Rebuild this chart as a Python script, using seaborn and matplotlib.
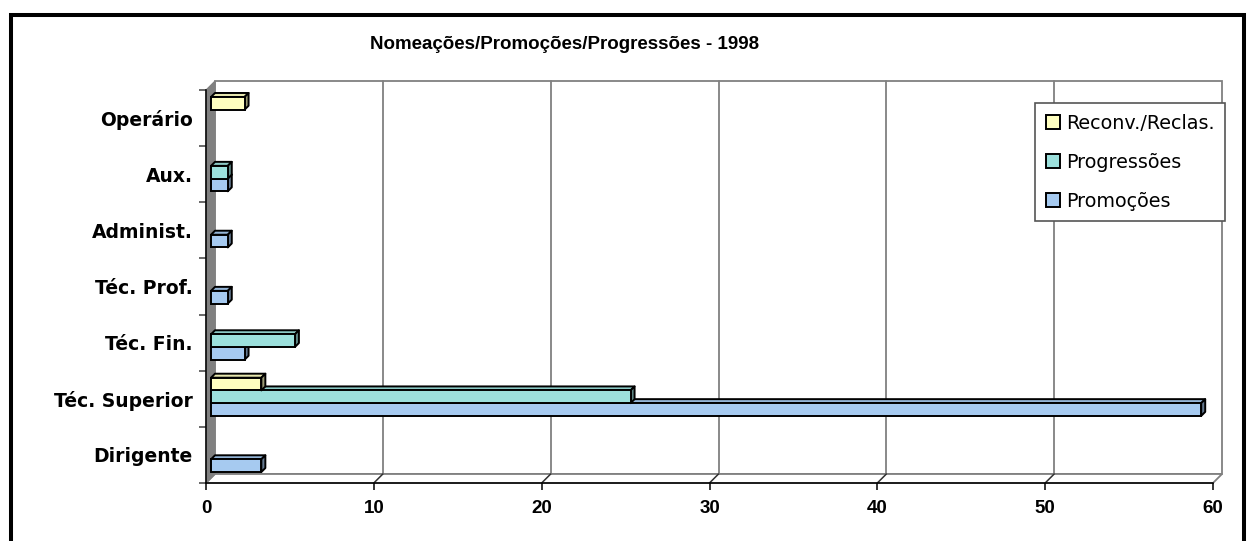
import matplotlib
matplotlib.use("Agg")
import matplotlib.pyplot as plt
import matplotlib.colors as mcolors
from matplotlib.patches import Polygon, Rectangle, Patch
from matplotlib.lines import Line2D
from matplotlib.transforms import IdentityTransform, ScaledTranslation
import numpy as np
import pandas as pd
import seaborn as sns

# Staff categories (top to bottom) and the three movement types
categorias = ["Operário", "Aux.", "Administ.", "Téc. Prof.", "Téc. Fin.", "Téc. Superior", "Dirigente"]
series = ["Reconv./Reclas.", "Progressões", "Promoções"]
reconv_reclas = [2, 0, 0, 0, 0, 3, 0]
progressoes = [0, 1, 0, 0, 5, 25, 0]
promocoes = [0, 1, 1, 1, 2, 59, 3]
cores = ["#FFFFC0", "#9CE0DC", "#A6CAF0"]
x_ticks = [0, 10, 20, 30, 40, 50, 60]
titulo = "Nomeações/Promoções/Progressões - 1998"

df = pd.DataFrame({
    "categoria": categorias * 3,
    "serie": [s for s in series for _ in categorias],
    "valor": reconv_reclas + progressoes + promocoes,
})

sns.set_style("white")
plt.rcParams["font.family"] = ["Liberation Sans", "DejaVu Sans"]
plt.rcParams["text.color"] = "black"
plt.rcParams["xtick.labelcolor"] = "black"
plt.rcParams["ytick.labelcolor"] = "black"

W, H = 1251, 541
fig = plt.figure(figsize=(W / 100, H / 100), dpi=100)
fig.patch.set_facecolor("white")

# front plane of the 3-D box, in pixels from the top-left corner
FX0, FX1, FY0, FY1 = 206, 1213, 90, 483
DEPTH = 9            # depth of walls and floor
BAR_SHIFT = (5, 2)   # bar front faces sit a little behind the front plane
BAR_DEPTH = 4
GREY = "#808080"

ax = fig.add_axes([FX0 / W, 1 - FY1 / H, (FX1 - FX0) / W, (FY1 - FY0) / H])
ax.set_facecolor("none")

sns.barplot(data=df, y="categoria", x="valor", hue="serie", order=categorias,
            hue_order=series, palette=cores, orient="h", width=0.68,
            saturation=1, edgecolor="black", linewidth=1.4, legend=False, ax=ax)
bars = list(ax.patches)

ax.set_xlim(0, 60)
ax.set_ylim(len(categorias) - 0.5, -0.5)
ax.set_xlabel("")
ax.set_ylabel("")

T = ax.transData
ID = IdentityTransform()
d = DEPTH


def disp(x, y):
    return T.transform((x, y))


x0d, ybot = disp(0, len(categorias) - 0.5)
x1d, ytop = disp(60, -0.5)

# left wall, back wall and floor
ax.add_patch(Polygon([(x0d, ybot), (x0d, ytop), (x0d + d, ytop + d), (x0d + d, ybot + d)],
                     closed=True, facecolor=GREY, edgecolor=GREY, linewidth=0.8,
                     transform=ID, clip_on=False, zorder=0.5))
ax.add_patch(Rectangle((x0d + d, ybot + d), x1d - x0d, ytop - ybot, facecolor="white",
                       edgecolor=GREY, linewidth=1.3, transform=ID, clip_on=False, zorder=0.4))
ax.add_patch(Polygon([(x0d, ybot), (x0d + d, ybot + d), (x1d + d, ybot + d), (x1d, ybot)],
                     closed=True, facecolor="white", edgecolor=GREY, linewidth=1.3,
                     transform=ID, clip_on=False, zorder=0.45))

# gridlines on the back wall and their traces on the floor
for v in x_ticks[1:-1]:
    xf = disp(v, 0)[0]
    ax.add_line(Line2D([xf + d, xf + d], [ybot + d, ytop + d], color=GREY, linewidth=1.3,
                       transform=ID, clip_on=False, zorder=1))
    ax.add_line(Line2D([xf, xf + d], [ybot, ybot + d], color="#303030", linewidth=1.1,
                       transform=ID, clip_on=False, zorder=1))

# 3-D bars: the seaborn rectangles become the front faces
shift = ScaledTranslation(BAR_SHIFT[0] / 100, BAR_SHIFT[1] / 100, fig.dpi_scale_trans)
bd = BAR_DEPTH
for bar in bars:
    w = bar.get_width()
    if w <= 0:
        bar.set_visible(False)
        continue
    yc = bar.get_y() + bar.get_height() / 2
    z = 10 - yc
    (ax_, ay_), (bx_, by_) = disp(bar.get_x(), bar.get_y()), disp(bar.get_x() + w, bar.get_y() + bar.get_height())
    L, R = min(ax_, bx_) + BAR_SHIFT[0], max(ax_, bx_) + BAR_SHIFT[0]
    B, Tp = min(ay_, by_) + BAR_SHIFT[1], max(ay_, by_) + BAR_SHIFT[1]
    base = np.array(mcolors.to_rgb(bar.get_facecolor()))
    top_c = base * 0.9
    side_c = base * 0.6
    ax.add_patch(Polygon([(L, Tp), (L + bd, Tp + bd), (R + bd, Tp + bd), (R, Tp)], closed=True,
                         facecolor=top_c, edgecolor="black", linewidth=1.4, joinstyle="round",
                         transform=ID, clip_on=False, zorder=z))
    ax.add_patch(Polygon([(R, B), (R, Tp), (R + bd, Tp + bd), (R + bd, B + bd)], closed=True,
                         facecolor=side_c, edgecolor="black", linewidth=1.4, joinstyle="round",
                         transform=ID, clip_on=False, zorder=z))
    bar.set_transform(T + shift)
    bar.set_clip_on(False)
    bar.set_zorder(z + 0.01)

# axes lines and ticks
for side in ("top", "right"):
    ax.spines[side].set_visible(False)
for side in ("left", "bottom"):
    ax.spines[side].set_color("black")
    ax.spines[side].set_linewidth(1.1)
    ax.spines[side].set_zorder(2)

ax.set_xticks(x_ticks)
ax.set_xticklabels([str(t) for t in x_ticks], fontsize=13.5, fontweight="bold",
                   family=["Liberation Sans", "DejaVu Sans"], color="black")
ax.tick_params(axis="x", which="major", length=5, width=1.1, color="black", pad=7, bottom=True)

ax.set_yticks(range(len(categorias)))
ax.set_yticklabels(categorias, fontsize=13.5, fontweight="bold", family=["DejaVu Sans"],
                   color="black")
ax.set_yticks(np.arange(-0.5, len(categorias), 1), minor=True)
ax.tick_params(axis="y", which="major", length=0, pad=9.5, left=True)
ax.tick_params(axis="y", which="minor", length=5, width=1.1, color="#404040", left=True)
ax.grid(False)

# legend
handles = [Patch(facecolor=c, edgecolor="black", linewidth=1.4, label=s) for s, c in zip(series, cores)]
leg = fig.legend(handles=handles, loc="upper left", bbox_to_anchor=(1035 / W, 1 - 103 / H),
                 bbox_transform=fig.transFigure, frameon=True, fancybox=False,
                 prop={"family": "DejaVu Sans", "size": 13.8}, handlelength=0.78,
                 handleheight=0.78, handletextpad=0.3, labelspacing=1.05,
                 borderpad=0.55, borderaxespad=0, labelcolor="black")
leg.get_frame().set_edgecolor("#555555")
leg.get_frame().set_linewidth(1.2)
leg.get_frame().set_facecolor("white")
leg.get_frame().set_alpha(1)

# title
fig.text(565 / W, 1 - 45 / H, titulo, ha="center", va="center", fontsize=13.5,
         fontweight="bold", family=["Liberation Sans", "DejaVu Sans"], color="black")

# chart frame
fig.add_artist(Rectangle((11 / W, -0.05), (1244 - 11) / W, (1 - 15 / H) + 0.05,
                         transform=fig.transFigure, fill=False, edgecolor="black",
                         linewidth=2.9, clip_on=False))

fig.savefig("out.png", dpi=100, facecolor="white")
